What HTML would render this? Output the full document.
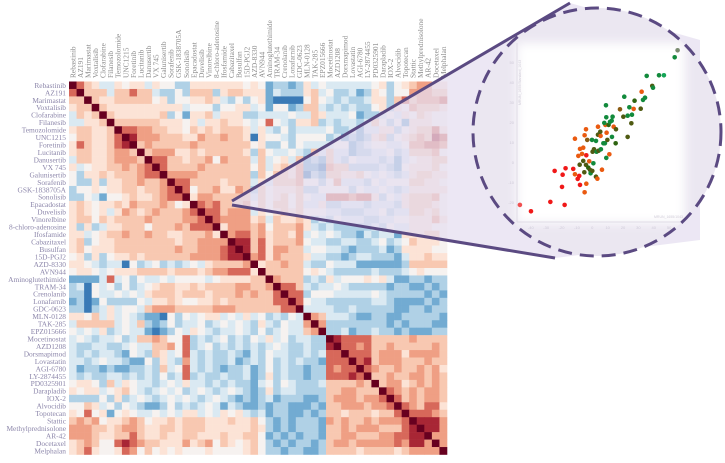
<!DOCTYPE html>
<html><head><meta charset="utf-8"><style>
html,body{margin:0;padding:0;background:#fff;}
svg{display:block;font-family:"Liberation Serif",serif;}
</style></head><body>
<svg id="c" width="725" height="463" viewBox="0 0 725 463">
<defs>
<filter id="blur" x="-20%" y="-20%" width="140%" height="140%"><feGaussianBlur stdDeviation="5"/></filter>
<clipPath id="circ"><circle cx="597" cy="132" r="124"/></clipPath>
</defs>
<g id="rowlabels"></g>
<g id="collabels"></g>
<g id="cells"></g>
<polygon points="232,201 570,3 700,40 700,240 555,258 232,205" fill="rgba(228,222,240,0.72)"/>
<circle cx="597" cy="132" r="124" fill="#ebe7f1"/>
<g clip-path="url(#circ)">
<rect x="517" y="43" width="168" height="180" fill="#fff" filter="url(#blur)"/>
</g>
<g id="scatter"></g>
<line x1="232" y1="201" x2="570" y2="3" stroke="#5b4a82" stroke-width="3"/>
<line x1="232" y1="205" x2="555" y2="258" stroke="#5b4a82" stroke-width="3"/>
<circle cx="597" cy="132" r="124" fill="none" stroke="#5b4a82" stroke-width="3" stroke-dasharray="14,8"/>
</svg>
<script>
const drugs=["Rebastinib","AZ191","Marimastat","Voxtalisib","Clofarabine","Filanesib","Temozolomide","UNC1215","Foretinib","Lucitanib","Danusertib","VX 745","Galunisertib","Sorafenib","GSK-1838705A","Sonolisib","Epacadostat","Duvelisib","Vinorelbine","8-chloro-adenosine","Ifosfamide","Cabazitaxel","Busulfan","15D-PGJ2","AZD-8330","AVN944","Aminoglutethimide","TRAM-34","Crenolanib","Lonafarnib","GDC-0623","MLN-0128","TAK-285","EPZ015666","Mocetinostat","AZD1208","Dorsmapimod","Lovastatin","AGI-6780","LY-2874455","PD0325901","Darapladib","IOX-2","Alvocidib","Topotecan","Stattic","Methylprednisolone","AR-42","Docetaxel","Melphalan"];
// lower triangle correlation levels: A-D blue (strong->weak), 0 neutral, 1-5 red (weak->strong)
const corrRows=["","4","22","122","D212","DD112","122112","0221124","14211245","122112332","D221123332","1D011223234","0C1121222344","0CC1C11223223","C0010112212234","CC0DB0012112344","1210112132223201","12101D13212322234","122021222232222334","1C1CD11222022232444","11D0122322322112223","12C011222222221223333","1201112222222232233345","01C1C011212222223333455","110DCDDA0CD0CDCD0D122223","0110D0111222212221233444","BBBBD4D0C0DD0D0000D011112223","CDA0D0C0CD012211212222332234","CCA0DD0D0D1222122212223232244","BCAB0CCCC0D112100112122222244","CCACD1D00D23332222233322222244","1102D1D0DCBBA0C0D011D0D1D0CDC0D","D22222D0D2CBC0CDD0CD0D0DC1DC0DD3","0D0D1CD0DDBABC0D10DCDD0DC0CD0DD23","D0DCDD0CD22320 4CDCD0CDC0D1D0CDDCC","DCCDDCCD0DD22304CD0CDCDCDCD0DCCDCC5","DCDCDDCB0DC21D04DCDCCDCBDC0DDCCDCD44","DDCD0DDCBB0C1DC3DCDCCDBCDC0CDCDCCB444","DBCCBCBBCCDC2D04DCDCBCCDBC0CDCCBCC4344","DCDCCDDCDCDC0CD4CDCCDCCDBC1CDCCBCC44454","0110C2D10DDCD0D1DDCDCDCCBD0C0DCCCD222232","1011D0120DCD0D0CD0DCD0DCBC1CDDCCCC2233222","CCCC0C1CD0DCD0D0DCD0DCBCBCDBCCCBBC23332334","0021D0C0DCBBC0CDCD0DBDCBBCBCCBBBCB223332334","10401B010DD0D0D11D0D101DCDBCCBBCBC2212221224","23230112320112122211121120CBCBCCCB32322323334","33322123321122122211111121CBCBCCCB223233322245","33321122421121122111211220BCBCBCCB2233222334455","12320045432211131230210120CBCBCCBC23323333343553","12410014302010100010000120CCBCCBBC222212222123333"];
const levelColor={A:"#3a7ab6",B:"#72abd2",C:"#b0d1e6",D:"#dae9f2","0":"#f6f2f0"," ":"#f6f2f0","1":"#fce3d6","2":"#f8c8b1","3":"#ef9f84","4":"#d7685a","5":"#a82635","9":"#67001f"};
// scatter data
const scX=[-47.1,-39.9,-27.3,-18.0,-19.7,-19.3,-24.5,-17.4,-12.4,-11.3,-9.5,-8.5,-8.0,-5.0,-3.9,-11.3,-5.0,-4.1,-3.3,-8.0,-5.9,-9.1,-6.7,-3.9,-2.0,-8.2,-5.9,-5.2,-4.1,-2.6,-1.5,-1.1,0,0.7,2.4,3.3,6.3,0.2,1.1,2.8,4.1,5.6,-0.2,2.4,3.7,5.4,7.2,8.2,9.8,9.3,8.5,3.7,5.2,7.8,9.1,8.9,10.6,11.5,12.6,13.2,12.8,13.9,15.4,11.1,9.1,15.2,18.0,20.2,20.8,23.0,24.1,25.8,26.9,25.4,23.0,27.5,31.5,32.1,33.0,34.3,39.0,39.5,35.4,43.4,46.6,53.6,55.5];
const scY=[-21.3,-24.5,-19.8,-21.3,-12.3,-6.2,-4.3,-3.0,-3.3,-6.0,-8.3,-6.8,-11.3,-15.0,-10.7,11.8,13.5,16.5,11.2,6.7,7.3,3.2,4.2,3.5,0.5,-1.2,0.7,-5.0,-1.3,-2.7,-3.8,-5.5,-4.3,-0.5,-7.2,-8.2,-3.7,5.3,6.5,5.3,5.8,6.5,11.2,10.7,13.8,13.2,9.5,9.5,11.2,14.8,18.7,17.8,15.3,19.7,22.5,28.5,18.7,20.2,20.8,22.8,12.7,17.8,16.5,4.0,2.2,9.5,26.5,22.8,32.8,23.3,27.5,23.8,26.7,19.5,12.7,30.8,26.8,35.3,31.2,32.3,38.2,37.3,43.2,43.5,43.5,52.5,56.0];
const scGroup="prrrrrrrrorrroooooboooorovvvvdvgvgvoovvgvgggvoggvooovgggdggggovogdbvggggovvdvoggvgggGgwt";
const xTicks=[-40,-30,-20,-10,0,10,20,30,40,50];
const yTicks=[-20,-10,0,10,20,30,40,50];
const groupColor={p:"#f05050",r:"#f01818",o:"#ea5a10",b:"#8a5a12",v:"#4f5a12",d:"#2e6410",g:"#128a3c",G:"#14a456",w:"#7a8a70",t:"#9ad8c0"};
const NS="http://www.w3.org/2000/svg";
function mk(t,a,p){const e=document.createElementNS(NS,t);for(const k in a)e.setAttribute(k,a[k]);p.appendChild(e);return e;}
const X0=69,Y0=81.5,CW=7.56,CH=7.46,N=drugs.length;
function level(i,j){if(i===j)return "9";const r=Math.max(i,j),c=Math.min(i,j);return (corrRows[r]||"")[c]||"1";}
const cells=document.getElementById("cells");
for(let i=0;i<N;i++)for(let j=0;j<N;j++){
 const r=mk("rect",{x:X0+j*CW,y:Y0+i*CH,width:CW+0.3,height:CH+0.3,fill:levelColor[level(i,j)]||"#f6f2f0"},cells);
 
 
}
const rl=document.getElementById("rowlabels"),cl=document.getElementById("collabels");
function j2(i){return i*CW+CW/2;}
drugs.forEach((d,i)=>{
 const t=mk("text",{x:66,y:Y0+i*CH+CH*0.5+2.6,"text-anchor":"end","font-size":"7.4",fill:"#8c86aa"},rl);t.textContent=d;
 
 
 const cx=X0+j2(i);
 const u=mk("text",{x:0,y:0,"font-size":"7.4",fill:"#8a8a8a",transform:`translate(${cx+2.6},78) rotate(-90)`},cl);u.textContent=d;
 
 
});
// scatter
const sc=document.getElementById("scatter");
const xs=v=>592.3+v*1.537, ys=v=>162.3-v*2.0;
const ax=mk("line",{x1:517,y1:43,x2:517,y2:222,stroke:"#e0dce6","stroke-width":1},sc);

const bx=mk("line",{x1:517,y1:222,x2:684,y2:222,stroke:"#e0dce6","stroke-width":1},sc);

xTicks.forEach(v=>{const t=mk("text",{x:xs(v),y:229,"font-size":"4","text-anchor":"middle",fill:"#cfcad8","font-family":"Liberation Sans,sans-serif"},sc);t.textContent=v;
 });
yTicks.forEach(v=>{const t=mk("text",{x:514,y:ys(v)+1.5,"font-size":"4","text-anchor":"end",fill:"#cfcad8","font-family":"Liberation Sans,sans-serif"},sc);t.textContent=v;
 });
const xt=mk("text",{x:683,y:218,"font-size":"3.5","text-anchor":"end",fill:"#d0ccd8","font-family":"Liberation Sans,sans-serif"},sc);xt.textContent="MRUN_1655/1043";

const yt=mk("text",{x:0,y:0,"font-size":"3.5",fill:"#d0ccd8",transform:"translate(521,105) rotate(-90)","font-family":"Liberation Sans,sans-serif"},sc);yt.textContent="MRUN_1655/Standard_1043";

scX.forEach((v,i)=>{const p=mk("circle",{cx:xs(v),cy:ys(scY[i]),r:2.3,fill:groupColor[scGroup[i]]||"#128a3c"},sc);
 });
</script>
</body></html>
